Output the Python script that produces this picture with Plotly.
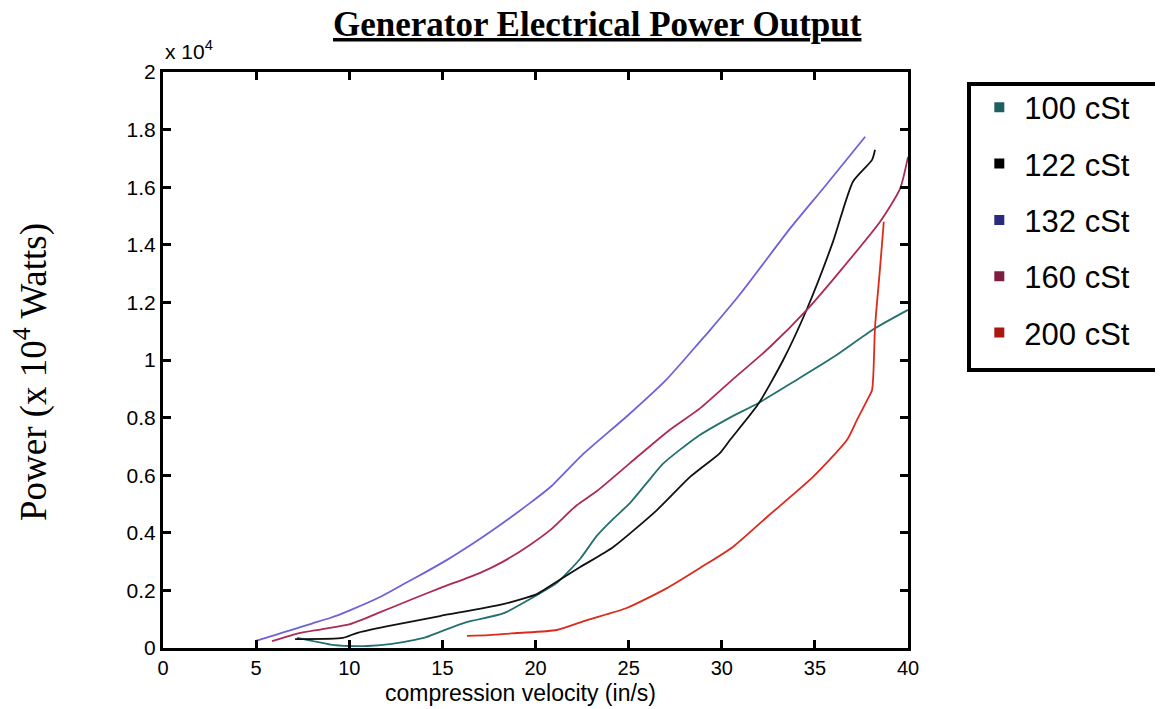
import plotly.graph_objects as go

# ---------------- data (power in units of 10^4 W) ----------------
x_100 = [7.2, 8.0, 9.0, 10.0, 11.0, 12.3, 14.0, 14.87, 16.3, 18.26, 20.08, 21.15, 22.4, 23.3, 24.2,
         25.07, 26.0, 26.85, 28.67, 30.44, 31.95, 34.0, 36.0, 38.23, 40.0]
y_100 = [0.035, 0.025, 0.012, 0.007, 0.007, 0.014, 0.035, 0.056, 0.09, 0.12, 0.184, 0.226, 0.31, 0.39, 0.45,
         0.503, 0.575, 0.64, 0.733, 0.80, 0.85, 0.93, 1.01, 1.11, 1.174]

x_122 = [7.09, 9.66, 10.4, 12.0, 14.87, 18.26, 20.08, 20.4, 22.4, 24.16, 26.52, 28.3, 29.9, 30.44,
         31.95, 33.3, 34.58, 35.97, 37.05, 38.07, 38.23]
y_122 = [0.031, 0.035, 0.052, 0.075, 0.111, 0.152, 0.187, 0.2, 0.281, 0.35, 0.479, 0.594, 0.677, 0.722,
         0.846, 1.0, 1.178, 1.41, 1.62, 1.695, 1.73]

x_132 = [4.94, 6.0, 7.0, 8.0, 9.0, 10.0, 11.65, 13.0, 14.0, 15.25, 16.1, 17.5, 19.7, 20.8, 22.5, 25.0,
         27.0, 28.83, 29.37, 31.0, 33.66, 35.5, 37.7]
y_132 = [0.024, 0.045, 0.065, 0.085, 0.105, 0.13, 0.177, 0.225, 0.26, 0.306, 0.34, 0.40, 0.503, 0.559, 0.67, 0.81,
         0.93, 1.064, 1.104, 1.23, 1.456, 1.60, 1.775]

x_160 = [5.85, 6.44, 7.2, 8.5, 10.04, 11.5, 13.4, 14.87, 17.0, 18.26, 19.7, 20.8, 22.2, 23.3, 25.07,
         27.2, 28.83, 30.44, 32.5, 34.58, 36.5, 38.5, 39.57, 40.0]
y_160 = [0.024, 0.035, 0.05, 0.065, 0.083, 0.12, 0.17, 0.208, 0.26, 0.30, 0.358, 0.41, 0.495, 0.545, 0.642,
         0.757, 0.832, 0.924, 1.04, 1.175, 1.32, 1.48, 1.594, 1.705]

x_200 = [16.32, 17.5, 19.0, 21.15, 22.77, 24.9, 27.06, 28.83, 30.6, 32.43, 34.9, 36.72, 37.26, 37.8,
         38.07, 38.23, 38.5, 38.7]
y_200 = [0.042, 0.045, 0.052, 0.0625, 0.097, 0.139, 0.208, 0.278, 0.351, 0.455, 0.594, 0.722, 0.792, 0.86,
         0.896, 1.115, 1.32, 1.48]

series_names = ["100 cSt", "122 cSt", "132 cSt", "160 cSt", "200 cSt"]
line_colors = ["#24706f", "#111111", "#6e62da", "#ac2a55", "#dc2a1c"]
legend_colors = ["#1f5f5f", "#000000", "#2a2a7e", "#7c1f3e", "#a8180e"]

x_ticks = [0, 5, 10, 15, 20, 25, 30, 35, 40]
y_ticks = [0, 0.2, 0.4, 0.6, 0.8, 1.0, 1.2, 1.4, 1.6, 1.8, 2.0]
y_tick_text = ["0", "0.2", "0.4", "0.6", "0.8", "1", "1.2", "1.4", "1.6", "1.8", "2"]

xs = [x_100, x_122, x_132, x_160, x_200]
ys = [y_100, y_122, y_132, y_160, y_200]

fig = go.Figure()
for xv, yv, name, c in zip(xs, ys, series_names, line_colors):
    fig.add_trace(go.Scatter(x=xv, y=yv, mode="lines", name=name, showlegend=False,
                             line=dict(color=c, width=1.8, shape="spline", smoothing=0.6)))

# legend entries with square markers
for name, c in zip(series_names, legend_colors):
    fig.add_trace(go.Scatter(x=[None], y=[None], mode="markers", name=name, legendgroup=name,
                             marker=dict(symbol="square", size=10, color=c)))

axis_common = dict(showline=True, linewidth=3, linecolor="black", mirror="ticks",
                   ticks="inside", ticklen=8, tickwidth=2.5, tickcolor="black",
                   showgrid=False, zeroline=False,
                   tickfont=dict(family="Liberation Sans, Arial", size=20, color="black"))

fig.update_xaxes(range=[0, 40], tickvals=x_ticks, **axis_common)
fig.update_yaxes(range=[0, 2], tickvals=y_ticks, ticktext=y_tick_text, **axis_common)
fig.update_yaxes(tickfont=dict(size=21))

# page body adds an 8px offset; plot area is 745x576 placed at (163,72) on screen
fig.update_layout(
    width=1163, height=709,
    margin=dict(l=155, r=263, t=64, b=69),
    plot_bgcolor="white", paper_bgcolor="white",
    legend=dict(x=1.089, y=0.985, xanchor="left", yanchor="top", itemwidth=40,
                font=dict(family="Liberation Sans, Arial", size=31, color="black"),
                tracegroupgap=13, bgcolor="rgba(0,0,0,0)", borderwidth=0),
    shapes=[dict(type="rect", xref="paper", yref="paper",
                 x0=(969 - 163) / 745, x1=(1159 - 163) / 745,
                 y0=(648 - 370) / 576, y1=(648 - 84) / 576,
                 line=dict(color="black", width=4))],
    annotations=[
        dict(text="<u><b>Generator Electrical Power Output</b></u>", xref="paper", yref="paper",
             x=(597 - 163) / 745, y=(648 - 25) / 576, xanchor="center", yanchor="middle",
             showarrow=False, font=dict(family="Liberation Serif, Times New Roman", size=35, color="black")),
        dict(text="x 10<sup>4</sup>", xref="paper", yref="paper",
             x=(163 - 163) / 745, y=(648 - 50) / 576, xanchor="left", yanchor="middle",
             showarrow=False, font=dict(family="Liberation Sans, Arial", size=21, color="black")),
        dict(text="Power (x 10<sup>4</sup> Watts)", xref="paper", yref="paper",
             x=(31 - 163) / 745, y=(648 - 372) / 576, xanchor="center", yanchor="middle",
             textangle=-90, showarrow=False,
             font=dict(family="Liberation Serif, Times New Roman", size=37, color="black")),
        dict(text="compression velocity (in/s)", xref="paper", yref="paper",
             x=(520 - 163) / 745, y=(648 - 693) / 576, xanchor="center", yanchor="middle",
             showarrow=False, font=dict(family="Liberation Sans, Arial", size=23, color="black")),
    ],
)

fig.write_html("out.html")
